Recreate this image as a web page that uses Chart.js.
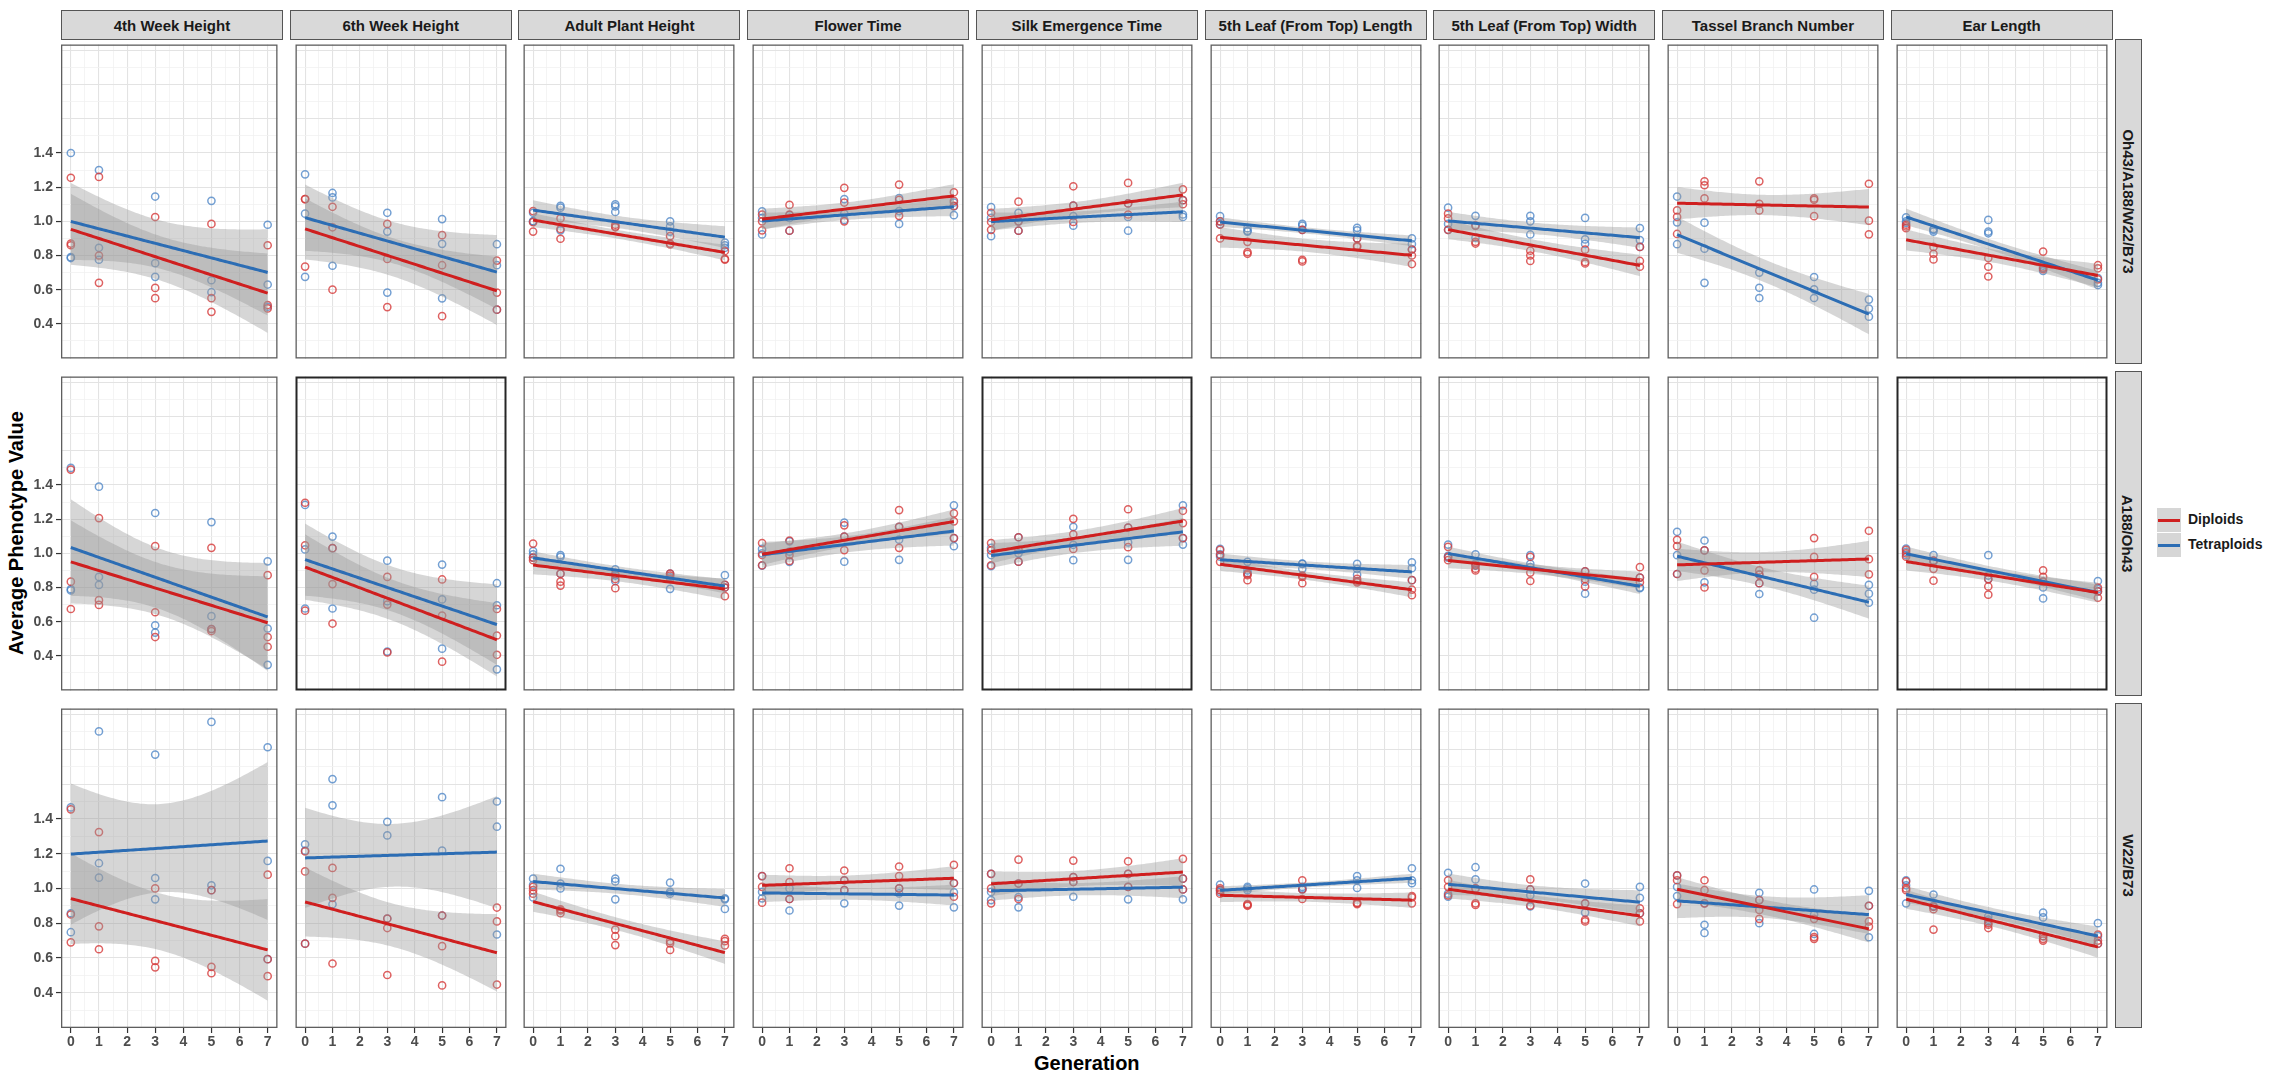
<!DOCTYPE html>
<html><head><meta charset="utf-8">
<script src="https://cdn.jsdelivr.net/npm/chart.js@4.4.1/dist/chart.umd.min.js"></script>
<style>
html,body{margin:0;padding:0;background:#fff;}
#root{position:relative;width:2281px;height:1078px;overflow:hidden;font-family:"Liberation Sans",Arial,sans-serif;background:#fff;}
.cell{position:absolute;}
.strip{position:absolute;background:#d9d9d9;border:1px solid #555;box-sizing:border-box;display:flex;align-items:center;justify-content:center;font-weight:bold;font-size:15px;color:#1a1a1a;white-space:nowrap;}
.rstrip span{display:inline-block;transform:rotate(90deg);white-space:nowrap;}
.title{position:absolute;font-weight:bold;font-size:20px;color:#000;white-space:nowrap;}
.lkey{position:absolute;width:24px;height:24px;background:#d6d6d6;}
.lkey i{position:absolute;left:1px;right:1px;top:11px;height:3px;}
.ltext{position:absolute;font-weight:bold;font-size:14px;color:#1a1a1a;white-space:nowrap;}
</style></head><body><div id="root"></div>
<script>
// ---------------- data ----------------
const traits = ['4th Week Height','6th Week Height','Adult Plant Height','Flower Time','Silk Emergence Time','5th Leaf (From Top) Length','5th Leaf (From Top) Width','Tassel Branch Number','Ear Length'];
const crosses = ['Oh43/A188/W22/B73','A188/Oh43','W22/B73'];
const ploidies = ['Diploids','Tetraploids'];
const generations = [0,1,3,5,7];
const xTickLabels = ['0','1','2','3','4','5','6','7'];
const yTickLabels = ['0.4','0.6','0.8','1.0','1.2','1.4'];

// each trait: [gen0 reps, gen1 reps, gen3 reps, gen5 reps, gen7 reps]
const oh43A188W22B73Diploids = [
 [[1.255,0.87,0.86],[1.26,0.80,0.64],[1.025,0.61,0.55],[0.985,0.55,0.47],[0.86,0.51,0.49]],
 [[1.13,1.13,0.735],[1.085,0.965,0.60],[0.985,0.78,0.498],[0.919,0.743,0.445],[0.77,0.583,0.483]],
 [[1.06,0.995,0.94],[1.017,0.955,0.898],[0.98,0.97,0.965],[0.913,0.87,0.865],[0.826,0.78,0.776]],
 [[1.04,1.0,0.947],[1.096,1.04,0.945],[1.196,1.11,1.0],[1.215,1.125,1.032],[1.17,1.12,1.09]],
 [[1.05,0.996,0.95],[1.115,1.0,0.945],[1.205,1.092,0.996],[1.225,1.105,1.04],[1.187,1.124,1.10]],
 [[1.0,0.98,0.9],[0.88,0.82,0.81],[0.95,0.775,0.765],[0.90,0.857,0.85],[0.835,0.80,0.75]],
 [[1.045,1.017,0.95],[0.975,0.88,0.87],[0.828,0.80,0.768],[0.834,0.762,0.753],[0.85,0.768,0.734]],
 [[1.064,1.026,0.926],[1.234,1.211,1.134],[1.234,1.102,1.064],[1.134,1.126,1.03],[1.22,1.004,0.924]],
 [[0.98,0.97,0.96],[0.85,0.81,0.777],[0.785,0.734,0.677],[0.823,0.73,0.72],[0.743,0.725,0.66]]
];
const oh43A188W22B73Tetraploids = [
 [[1.40,0.79,0.785],[1.30,0.845,0.775],[1.145,0.755,0.675],[1.12,0.655,0.585],[0.98,0.63,0.50]],
 [[1.275,1.045,0.675],[1.166,1.14,0.74],[1.05,0.94,0.583],[1.013,0.868,0.549],[0.866,0.743,0.483]],
 [[1.05,1.0,1.0],[1.09,1.08,0.947],[1.10,1.087,1.055],[1.0,0.97,0.94],[0.875,0.86,0.845]],
 [[1.058,1.02,0.923],[1.036,1.02,0.945],[1.13,1.045,1.008],[1.136,1.06,0.985],[1.11,1.087,1.036]],
 [[1.083,1.02,0.913],[1.05,1.0,0.945],[1.092,1.03,0.974],[1.105,1.026,0.945],[1.124,1.04,1.026]],
 [[1.03,1.0,0.983],[0.96,0.945,0.94],[0.985,0.975,0.95],[0.962,0.947,0.90],[0.90,0.867,0.835]],
 [[1.08,0.985,0.95],[1.032,0.975,0.904],[1.032,1.0,0.923],[1.02,0.894,0.868],[0.96,0.89,0.85]],
 [[1.145,0.994,0.866],[0.992,0.84,0.64],[0.70,0.611,0.551],[0.674,0.602,0.551],[0.542,0.489,0.442]],
 [[1.023,1.0,0.99],[0.955,0.95,0.94],[1.008,0.94,0.93],[0.74,0.725,0.71],[0.668,0.64,0.627]]
];
const a188Oh43Diploids = [
 [[1.49,0.834,0.674],[1.206,0.726,0.698],[1.042,0.655,0.51],[1.032,0.557,0.545],[0.872,0.51,0.453]],
 [[1.296,1.047,0.664],[1.03,0.82,0.589],[0.862,0.70,0.42],[0.847,0.636,0.366],[0.674,0.519,0.406]],
 [[1.057,0.975,0.96],[0.881,0.834,0.811],[0.88,0.85,0.796],[0.881,0.87,0.85],[0.815,0.80,0.749]],
 [[1.06,0.99,0.93],[1.075,0.99,0.955],[1.164,1.098,1.019],[1.253,1.155,1.032],[1.234,1.187,1.089]],
 [[1.06,1.017,0.93],[1.094,1.02,0.951],[1.202,1.111,1.026],[1.258,1.151,1.036],[1.249,1.177,1.089]],
 [[1.02,0.99,0.95],[0.88,0.872,0.843],[0.87,0.862,0.825],[0.85,0.838,0.83],[0.843,0.787,0.755]],
 [[1.038,0.98,0.96],[0.93,0.91,0.90],[0.98,0.887,0.838],[0.894,0.85,0.806],[0.919,0.858,0.83]],
 [[1.079,1.042,0.879],[1.017,0.9,0.8],[0.9,0.875,0.825],[1.089,0.979,0.862],[1.132,0.966,0.877]],
 [[1.02,1.0,0.98],[0.957,0.909,0.84],[0.849,0.806,0.758],[0.9,0.862,0.834],[0.80,0.777,0.74]]
];
const a188Oh43Tetraploids = [
 [[1.50,0.79,0.783],[1.39,0.862,0.815],[1.236,0.579,0.536],[1.183,0.632,0.557],[0.953,0.56,0.347]],
 [[1.283,1.023,0.677],[1.098,1.03,0.677],[0.957,0.72,0.425],[0.934,0.73,0.442],[0.825,0.696,0.321]],
 [[1.013,0.994,0.975],[0.989,0.98,0.881],[0.906,0.87,0.838],[0.881,0.86,0.792],[0.872,0.815,0.80]],
 [[1.026,1.0,0.928],[1.07,1.01,0.95],[1.18,1.098,0.951],[1.155,1.08,0.962],[1.281,1.089,1.042]],
 [[1.032,0.99,0.925],[1.094,1.0,0.951],[1.155,1.05,0.96],[1.151,1.064,0.962],[1.281,1.089,1.051]],
 [[1.026,0.994,0.98],[0.95,0.90,0.885],[0.94,0.938,0.909],[0.938,0.909,0.875],[0.947,0.913,0.843]],
 [[1.051,0.985,0.975],[0.994,0.94,0.928],[0.989,0.938,0.92],[0.894,0.834,0.764],[0.858,0.80,0.796]],
 [[1.126,0.989,0.879],[1.075,1.017,0.83],[0.875,0.825,0.762],[0.821,0.787,0.623],[0.815,0.764,0.711]],
 [[1.028,1.009,0.989],[0.989,0.957,0.95],[0.989,0.87,0.849],[0.834,0.80,0.736],[0.838,0.79,0.777]]
];
const w22B73Diploids = [
 [[1.455,0.85,0.69],[1.324,0.782,0.65],[1.0,0.583,0.546],[0.99,0.549,0.512],[1.079,0.593,0.495]],
 [[1.213,1.098,0.682],[1.118,0.946,0.568],[0.827,0.772,0.502],[0.844,0.668,0.442],[0.89,0.81,0.447]],
 [[1.009,0.99,0.97],[0.88,0.873,0.857],[0.763,0.725,0.674],[0.697,0.684,0.646],[0.71,0.697,0.672]],
 [[1.071,1.009,0.918],[1.116,1.037,0.939],[1.103,1.047,0.99],[1.126,1.071,1.0],[1.135,1.031,0.952]],
 [[1.084,1.0,0.914],[1.166,1.028,0.939],[1.16,1.065,1.037],[1.156,1.084,1.009],[1.17,1.056,0.994]],
 [[1.0,0.99,0.97],[0.91,0.905,0.90],[1.047,0.994,0.939],[0.918,0.915,0.91],[0.956,0.948,0.914]],
 [[1.047,1.009,0.96],[1.0,0.914,0.905],[1.052,0.994,0.901],[0.914,0.82,0.81],[0.886,0.857,0.81]],
 [[1.075,1.047,0.91],[1.047,0.99,0.914],[0.933,0.876,0.825],[0.825,0.72,0.71],[0.9,0.81,0.78]],
 [[1.04,1.0,0.99],[0.895,0.88,0.763],[0.80,0.791,0.772],[0.725,0.71,0.70],[0.735,0.70,0.682]]
];
const w22B73Tetraploids = [
 [[1.466,0.857,0.748],[1.903,1.145,1.062],[1.77,1.06,0.937],[1.958,1.018,0.99],[1.812,1.158,0.593]],
 [[1.254,1.217,0.682],[1.629,1.478,0.909],[1.383,1.305,0.827],[1.525,1.217,0.844],[1.5,1.355,0.735]],
 [[1.056,1.02,0.948],[1.113,1.028,1.0],[1.056,1.04,0.937],[1.033,0.98,0.97],[0.943,0.937,0.882]],
 [[1.071,0.98,0.943],[1.0,0.939,0.873],[1.047,0.99,0.914],[1.0,0.971,0.901],[1.031,0.977,0.891]],
 [[1.084,0.98,0.933],[1.028,0.95,0.891],[1.065,1.037,0.952],[1.084,1.009,0.937],[1.056,0.994,0.937]],
 [[1.022,0.99,0.98],[1.009,1.0,0.99],[1.009,1.0,0.994],[1.071,1.047,1.003],[1.116,1.047,1.03]],
 [[1.09,0.97,0.952],[1.122,1.052,1.0],[0.994,0.96,0.896],[1.028,0.914,0.861],[1.009,0.946,0.857]],
 [[1.075,1.009,0.956],[0.914,0.791,0.744],[0.975,0.933,0.8],[0.994,0.85,0.738],[0.986,0.9,0.719]],
 [[1.047,1.018,0.914],[0.965,0.9,0.895],[0.84,0.82,0.81],[0.861,0.833,0.725],[0.8,0.725,0.682]]
];

const rowSeries = [
  [oh43A188W22B73Diploids, oh43A188W22B73Tetraploids],
  [a188Oh43Diploids, a188Oh43Tetraploids],
  [w22B73Diploids, w22B73Tetraploids]
];

// ---------------- style / layout ----------------
const lineColors = ['#cf1f1f', '#2c6db4'];
const pointColors = ['rgba(214,58,58,0.80)', 'rgba(70,128,196,0.75)'];
const bandFill = 'rgba(153,153,153,0.40)';
const PANEL_LEFT0 = 61, PANEL_PITCH = 228.7, PANEL_W = 222, PANEL_H = 325;
const ROW_TOPS = [39, 371, 703];
const X_MIN = -0.35, X_MAX = 7.35, Y_MIN = 0.197, Y_MAX = 2.035;
const FONT = 'Liberation Sans';
const darkBorderPanels = {'1-1':1, '1-4':1, '1-8':1};

// ---------------- regression (lm + 95% CI like geom_smooth) ----------------
function tQuantile975(df){
  const z = 1.959964;
  const z3=z*z*z, z5=z3*z*z, z7=z5*z*z;
  return z + (z3+z)/(4*df) + (5*z5+16*z3+3*z)/(96*df*df) + (3*z7+19*z5+17*z3-15*z)/(384*df*df*df);
}
function fitLm(pts){
  const n = pts.length;
  let mx=0,my=0; pts.forEach(p=>{mx+=p.x;my+=p.y;}); mx/=n; my/=n;
  let sxx=0,sxy=0; pts.forEach(p=>{sxx+=(p.x-mx)*(p.x-mx); sxy+=(p.x-mx)*(p.y-my);});
  const b = sxy/sxx, a = my - b*mx;
  let sse=0; pts.forEach(p=>{const r=p.y-(a+b*p.x); sse+=r*r;});
  const s = Math.sqrt(sse/(n-2));
  const t = tQuantile975(n-2);
  const xmin = Math.min(...pts.map(p=>p.x)), xmax = Math.max(...pts.map(p=>p.x));
  const fit=[], lo=[], hi=[];
  const N = 80;
  for(let i=0;i<N;i++){
    const x = xmin + (xmax-xmin)*i/(N-1);
    const yh = a + b*x;
    const se = s*Math.sqrt(1/n + (x-mx)*(x-mx)/sxx);
    fit.push({x, y:yh}); lo.push({x, y:yh - t*se}); hi.push({x, y:yh + t*se});
  }
  return {fit, lo, hi};
}

// grids
const xGrid = [];
xTickLabels.forEach((lab,i)=>{ xGrid.push(i); if(i < xTickLabels.length-1) xGrid.push(i+0.5); });
const yGrid = [];
for(let k=3;k<=20;k++) yGrid.push(k/10);
function yLabel(v){ const k=Math.round(v*10); if(k%2===0 && k>=4 && k<=14) return yTickLabels[(k-4)/2]; return ''; }
function xLabel(v){ return (Math.abs(v-Math.round(v))<1e-9 && v>=0 && v<=7) ? xTickLabels[Math.round(v)] : ''; }

const panelBorder = {
  id:'panelBorder',
  afterDraw(chart, args, opts){
    const {ctx, chartArea:a} = chart;
    ctx.save(); ctx.strokeStyle = opts.color; ctx.lineWidth = opts.width;
    ctx.strokeRect(a.left+opts.width/2, a.top+opts.width/2, a.right-a.left-opts.width, a.bottom-a.top-opts.width);
    ctx.restore();
  }
};

const root = document.getElementById('root');
function el(cls, css, html){ const d=document.createElement('div'); d.className=cls; Object.assign(d.style, css); if(html!==undefined) d.innerHTML=html; root.appendChild(d); return d; }

// strips
traits.forEach((t,c)=>{
  el('strip', {left:(PANEL_LEFT0+c*PANEL_PITCH)+'px', top:'10px', width:PANEL_W+'px', height:'30px'}, t);
});
crosses.forEach((cr,r)=>{
  el('strip rstrip', {left:(PANEL_LEFT0+8*PANEL_PITCH+PANEL_W+2)+'px', top:ROW_TOPS[r]+'px', width:'27px', height:PANEL_H+'px'}, '<span>'+cr+'</span>');
});

// titles
el('title', {left:'16px', top:'533px', transform:'translate(-50%,-50%) rotate(-90deg)'}, 'Average Phenotype Value');
el('title', {left:((PANEL_LEFT0 + PANEL_LEFT0+8*PANEL_PITCH+PANEL_W)/2)+'px', top:'1063px', transform:'translate(-50%,-50%)'}, 'Generation');

// legend
ploidies.forEach((p,i)=>{
  const k = el('lkey', {left:'2157px', top:(508+i*25)+'px'});
  const ln = document.createElement('i'); ln.style.background = lineColors[i]; k.appendChild(ln);
  el('ltext', {left:'2188px', top:(511+i*25)+'px'}, p);
});

// panels
for(let r=0;r<3;r++){
  for(let c=0;c<9;c++){
    const left = c===0, bottom = r===2;
    const extraL = left ? 45 : 0, extraB = bottom ? 36 : 0;
    const pl = PANEL_LEFT0 + c*PANEL_PITCH;
    const box = el('cell', {left:(pl-extraL)+'px', top:ROW_TOPS[r]+'px', width:(PANEL_W+extraL)+'px', height:(PANEL_H+extraB)+'px'});
    const cv = document.createElement('canvas'); box.appendChild(cv);

    const datasets = [];
    const fits = [];
    for(let s=0;s<2;s++){
      const vals = rowSeries[r][s][c];
      const pts = [];
      generations.forEach((g,gi)=>vals[gi].forEach(v=>pts.push({x:g, y:v})));
      fits.push(fitLm(pts));
      datasets.push({type:'scatter', label:ploidies[s]+' points', data:pts, order:3,
        pointStyle:'circle', pointRadius:3.6, pointBorderWidth:1.5, pointBorderColor:pointColors[s], pointBackgroundColor:'rgba(0,0,0,0)', showLine:false});
    }
    for(let s=0;s<2;s++){
      datasets.push({type:'line', label:ploidies[s]+' lower', data:fits[s].lo, order:2, borderWidth:0, borderColor:'rgba(0,0,0,0)', pointRadius:0, fill:false, tension:0});
      datasets.push({type:'line', label:ploidies[s]+' upper', data:fits[s].hi, order:2, borderWidth:0, borderColor:'rgba(0,0,0,0)', pointRadius:0, fill:'-1', backgroundColor:bandFill, tension:0});
    }
    for(let s=0;s<2;s++){
      datasets.push({type:'line', label:ploidies[s], data:fits[s].fit, order:1, borderWidth:3, borderColor:lineColors[s], pointRadius:0, fill:false, tension:0});
    }

    const dark = darkBorderPanels[r+'-'+c];
    new Chart(cv, {
      type:'scatter',
      data:{datasets},
      plugins:[panelBorder],
      options:{
        responsive:true, maintainAspectRatio:false, animation:false, events:[],
        layout:{padding:0},
        plugins:{legend:{display:false}, tooltip:{enabled:false}, panelBorder:{color: dark ? '#262626' : '#5e5e5e', width: dark ? 2 : 1.3}},
        scales:{
          x:{type:'linear', min:X_MIN, max:X_MAX,
            afterBuildTicks:(sc)=>{ sc.ticks = xGrid.map(v=>({value:v})); },
            afterFit:(sc)=>{ sc.height = bottom ? 36 : 0; sc.paddingLeft = 0; sc.paddingRight = 0; },
            border:{display:false},
            grid:{drawTicks:bottom, tickLength:5,
              color:(ctx)=> Number.isInteger(ctx.tick.value) ? '#e3e3e3' : '#f1f1f1',
              lineWidth:(ctx)=> Number.isInteger(ctx.tick.value) ? 1.1 : 0.8,
              tickColor:(ctx)=> Number.isInteger(ctx.tick.value) ? '#333' : 'rgba(0,0,0,0)', tickWidth:1.2},
            ticks:{display:bottom, autoSkip:false, maxRotation:0, minRotation:0, padding:1, color:'#4d4d4d',
              font:{family:FONT, size:14, weight:'bold'}, callback:(v)=>xLabel(v)}
          },
          y:{type:'linear', min:Y_MIN, max:Y_MAX,
            afterBuildTicks:(sc)=>{ sc.ticks = yGrid.map(v=>({value:v})); },
            afterFit:(sc)=>{ sc.width = left ? 45 : 0; sc.paddingTop = 0; sc.paddingBottom = 0; },
            border:{display:false},
            grid:{drawTicks:left, tickLength:5,
              color:(ctx)=> Math.round(ctx.tick.value*10)%2===0 ? '#e3e3e3' : '#f1f1f1',
              lineWidth:(ctx)=> Math.round(ctx.tick.value*10)%2===0 ? 1.1 : 0.8,
              tickColor:(ctx)=> yLabel(ctx.tick.value)!=='' ? '#333' : 'rgba(0,0,0,0)', tickWidth:1.2},
            ticks:{display:left, autoSkip:false, padding:3, color:'#4d4d4d',
              font:{family:FONT, size:14, weight:'bold'}, callback:(v)=>yLabel(v)}
          }
        }
      }
    });
  }
}
</script>
</body></html>
